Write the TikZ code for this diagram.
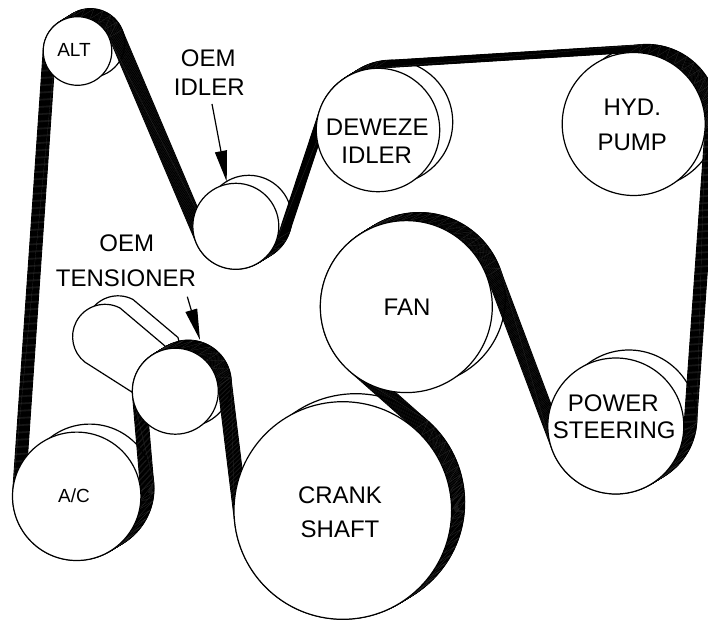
\documentclass[tikz,border=0pt]{standalone}
\usepackage{fontspec}
\setmainfont{Liberation Sans}
\usetikzlibrary{arrows.meta}
\makeatletter
\newcommand\cs[1]{\csname #1\endcsname}
% pulley: name, x, y, r, sense (+1 clockwise, -1 counter-clockwise)
\newcommand\pul[5]{%
  \expandafter\gdef\csname X#1\endcsname{#2}%
  \expandafter\gdef\csname Y#1\endcsname{#3}%
  \expandafter\gdef\csname r#1\endcsname{#4}%
  \expandafter\gdef\csname s#1\endcsname{#5}}
% tangent from pulley #1 to pulley #2
\newcommand\tg[2]{%
  \pgfmathsetmacro\tmpa{atan2(\cs{Y#2}-\cs{Y#1},\cs{X#2}-\cs{X#1})+acos((\cs{s#1}*\cs{r#1}-\cs{s#2}*\cs{r#2})/veclen(\cs{X#2}-\cs{X#1},\cs{Y#2}-\cs{Y#1}))}%
  \expandafter\xdef\csname O#1\endcsname{\tmpa}%
  \expandafter\xdef\csname I#2\endcsname{\tmpa}}
% arc limits on a pulley
\newcommand\wrapit[1]{%
  \pgfmathsetmacro\tmps{\cs{I#1}+(1-\cs{s#1})*90}%
  \pgfmathsetmacro\tmpe{\cs{O#1}+(1-\cs{s#1})*90}%
  \pgfmathsetmacro\tmpf{\tmps-\cs{s#1}*Mod(\cs{s#1}*(\tmps-\tmpe),360)}%
  \expandafter\xdef\csname S#1\endcsname{\tmps}%
  \expandafter\xdef\csname E#1\endcsname{\tmpf}}
\newcommand\seg[1]{({\cs{X#1}+\cs{r#1}*cos(\cs{S#1})},{\cs{Y#1}+\cs{r#1}*sin(\cs{S#1})}) arc[start angle=\cs{S#1},end angle=\cs{E#1},radius=\cs{r#1}]}
% the facet edges of the belt on one pulley (zig-zag between front and rear edge)
\newcommand\mesh[1]{%
  \pgfmathtruncatemacro\nn{max(2,abs(\cs{E#1}-\cs{S#1})*3.1416/180*\cs{r#1}/9)}%
  \foreach \k in {0,...,\nn}{%
    \pgfmathsetmacro\aa{\cs{S#1}+(\cs{E#1}-\cs{S#1})*\k/\nn}%
    \pgfmathsetmacro\ab{\cs{S#1}+(\cs{E#1}-\cs{S#1})*min(\k+1,\nn)/\nn}%
    \draw[beltmesh] ({\cs{X#1}+\cs{r#1}*cos(\aa)},{\cs{Y#1}+\cs{r#1}*sin(\aa)})
       -- ({\cs{X#1}+13+\cs{r#1}*cos(\aa)},{\cs{Y#1}+8+\cs{r#1}*sin(\aa)})
       -- ({\cs{X#1}+\cs{r#1}*cos(\ab)},{\cs{Y#1}+\cs{r#1}*sin(\ab)});
  }}
% long thin diagonal of a straight run from pulley #1 to pulley #2
\newcommand\run[2]{%
  \draw[beltmesh] ({\cs{X#1}+\cs{r#1}*cos(\cs{E#1})},{\cs{Y#1}+\cs{r#1}*sin(\cs{E#1})})
    -- ({\cs{X#2}+13+\cs{r#2}*cos(\cs{S#2})},{\cs{Y#2}+8+\cs{r#2}*sin(\cs{S#2})});}
\makeatother
\pul{ALT}{77.5}{568}{34.3}{1}
\pul{IDL}{235.8}{392.7}{43}{-1}
\pul{DEW}{378}{489}{61.7}{1}
\pul{HYD}{633.7}{495}{71.5}{1}
\pul{PS}{615.8}{193}{68}{1}
\pul{FAN}{406.3}{312.4}{86}{-1}
\pul{CRK}{342.8}{108.5}{108.8}{1}
\pul{TEN}{175.3}{227.8}{43}{-1}
\pul{AC}{76.7}{122.7}{64.2}{1}
\tikzset{
  pulley/.style={draw=black,fill=white,line width=1.2pt},
  armshape/.style={draw=black,fill=white,line width=1.2pt,line join=round},
  beltline/.style={draw=black,line width=0.85pt,line join=round},
  beltmesh/.style={draw=gray!45!black,line width=0.15pt},
  lab/.style={inner sep=0pt,text height=17pt,text depth=0pt,text=black,font=\fontsize{24}{24}\selectfont},
  labsmall/.style={inner sep=0pt,text height=13pt,text depth=0pt,text=black,font=\fontsize{19}{19}\selectfont},
  pointer/.style={draw=black,line width=1.2pt,-{Triangle[length=31pt,width=12pt]}}
}
\begin{document}
\begin{tikzpicture}[x=1pt,y=1pt]
\tg{ALT}{IDL}\tg{IDL}{DEW}\tg{DEW}{HYD}\tg{HYD}{PS}\tg{PS}{FAN}\tg{FAN}{CRK}\tg{CRK}{TEN}\tg{TEN}{AC}\tg{AC}{ALT}
\wrapit{ALT}\wrapit{IDL}\wrapit{DEW}\wrapit{HYD}\wrapit{PS}\wrapit{FAN}\wrapit{CRK}\wrapit{TEN}\wrapit{AC}
\useasboundingbox (0,0) rectangle (708,619);
\clip (0,0) rectangle (708,619);
\fill[white] (0,0) rectangle (708,619);
% rear faces
\foreach \p in {ALT,IDL,DEW,HYD,PS,FAN,CRK,TEN,AC}{
  \draw[pulley] ({\cs{X\p}+13},{\cs{Y\p}+8}) circle[radius=\cs{r\p}];
}
% tensioner arm, rear then front
\draw[armshape,shift={(13,8.5)}] (165,273) -- (120,311) arc[start angle=62.4,end angle=231.3,radius=32.4] -- (132.3,226.7) -- (175,228) -- cycle;
\draw[armshape] (165,273) -- (120,311) arc[start angle=62.4,end angle=231.3,radius=32.4] -- (132.3,226.7) -- (175,228) -- cycle;
% belt: the path swept through the pulley offset
\foreach \t in {0,0.04,...,1.01}{
  \draw[beltline,shift={({13*\t},{8*\t})}]
    \seg{ALT} -- \seg{IDL} -- \seg{DEW} -- \seg{HYD} -- \seg{PS} -- \seg{FAN} -- \seg{CRK} -- \seg{TEN} -- \seg{AC} -- cycle;
}
\mesh{ALT}\mesh{IDL}\mesh{DEW}\mesh{HYD}\mesh{PS}\mesh{FAN}\mesh{CRK}\mesh{TEN}\mesh{AC}
\run{ALT}{IDL}\run{IDL}{DEW}\run{DEW}{HYD}\run{HYD}{PS}\run{PS}{FAN}\run{FAN}{CRK}\run{CRK}{TEN}\run{TEN}{AC}\run{AC}{ALT}
% front faces
\foreach \p in {ALT,IDL,DEW,HYD,PS,FAN,CRK,TEN,AC}{
  \draw[pulley] (\cs{X\p},\cs{Y\p}) circle[radius=\cs{r\p}];
}
% labels
\node[labsmall] (lalt) at (74,569) {ALT};
\node[labsmall] (lac) at (74,123.3) {A/C};
\node[lab] (loem) at (208.3,560.7) {OEM};
\node[lab] (lidl) at (209.3,531.7) {IDLER};
\node[lab] (loemt) at (126.7,375.7) {OEM};
\node[lab] (lten) at (126,341.3) {TENSIONER};
\node[lab] (ldew) at (377.3,492.3) {DEWEZE};
\node[lab] (ldid) at (376.7,464) {IDLER};
\node[lab] (lhyd) at (632.3,511.7) {HYD.};
\node[lab] (lpump) at (632.3,477.3) {PUMP};
\node[lab] (lfan) at (407,312.3) {FAN};
\node[lab] (lpow) at (613.3,215.7) {POWER};
\node[lab] (lste) at (614.3,189) {STEERING};
\node[lab] (lcrk) at (340,124) {CRANK};
\node[lab] (lsha) at (340,89.7) {SHAFT};
% pointers
\coordinate (a1) at (212,515);
\coordinate (a2) at (226.7,437.3);
\coordinate (b1) at (187.3,322.3);
\coordinate (b2) at (200,279);
\draw[pointer] (a1) -- (a2);
\draw[pointer] (b1) -- (b2);
\end{tikzpicture}
\end{document}
